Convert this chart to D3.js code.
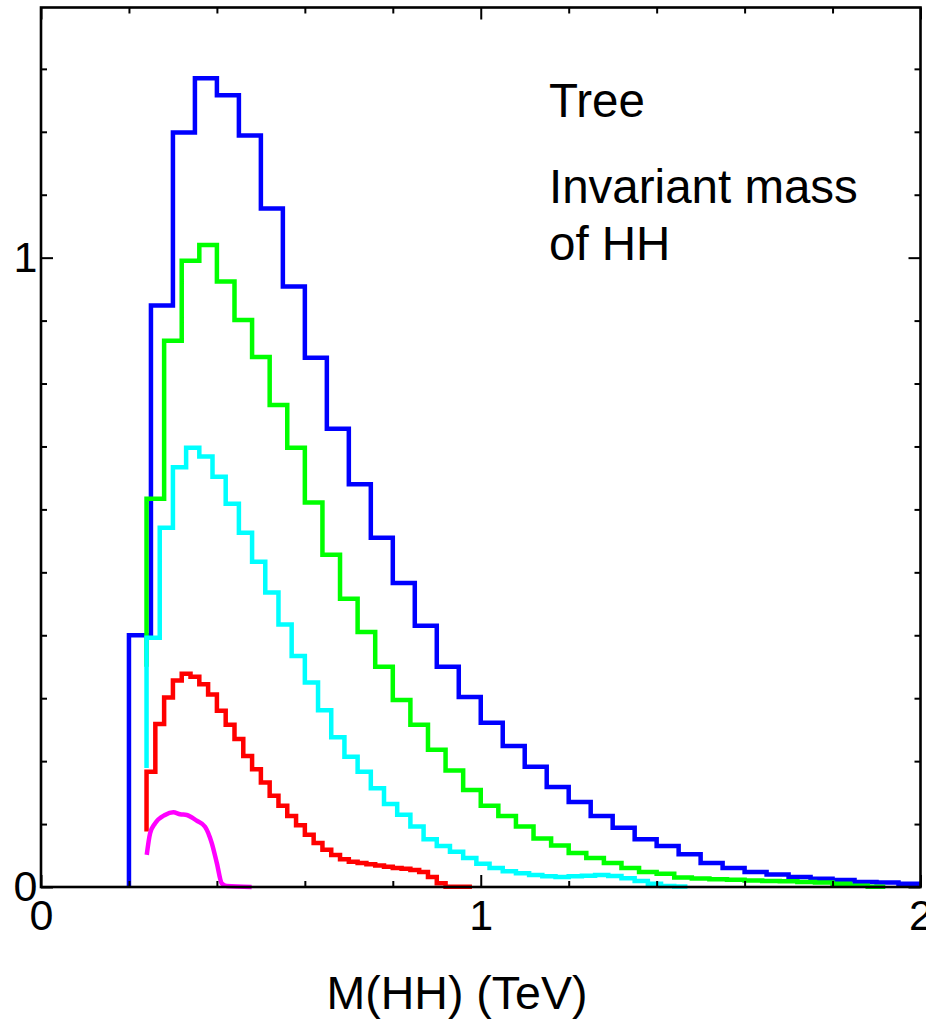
<!DOCTYPE html>
<html>
<head>
<meta charset="utf-8">
<script src="https://cdn.jsdelivr.net/npm/d3@7"></script>
<style>
  html, body { margin: 0; padding: 0; background: #ffffff; }
  svg { display: block; }
  text { font-family: "Liberation Sans", Arial, Helvetica, sans-serif; fill: #000; }
</style>
</head>
<body>
<svg id="chart" width="926" height="1019"></svg>
<script>
// ---------------- DATA ----------------
// x-axis ticks (TeV)
const xMajorTicks = [0, 1, 2];
const xTickLabels = ["0", "1", "2"];
const xMinorTicks = [0.2, 0.4, 0.6, 0.8, 1.2, 1.4, 1.6, 1.8];
// y-axis ticks
const yMajorTicks = [0, 1];
const yTickLabels = ["0", "1"];
const yMinorTicks = [0.1, 0.2, 0.3, 0.4, 0.5, 0.6, 0.7, 0.8, 0.9, 1.1, 1.2, 1.3];

const xTitle = "M(HH) (TeV)";
const annotationLines = ["Tree", "Invariant mass", "of HH"];

// Blue histogram: bins of 0.05 TeV from 0.20
const blueStart = 0.20, blueBinWidth = 0.05, blueFirst = 0.0;
const blueValues = [0.400, 0.924, 1.199, 1.285, 1.258, 1.194, 1.078, 0.954, 0.841, 0.728,
  0.640, 0.555, 0.483, 0.415, 0.350, 0.302, 0.261, 0.224, 0.191, 0.159,
  0.135, 0.113, 0.094, 0.076, 0.065, 0.052, 0.038, 0.030, 0.024, 0.020,
  0.016, 0.013, 0.011, 0.008, 0.007, 0.005];

// Green histogram: bins of 0.04 TeV from 0.24
const greenStart = 0.24, greenBinWidth = 0.04, greenFirst = 0.35;
const greenValues = [0.617, 0.868, 0.995, 1.020, 0.962, 0.901, 0.842, 0.766, 0.698, 0.611,
  0.528, 0.458, 0.405, 0.350, 0.297, 0.258, 0.218, 0.185, 0.154, 0.129,
  0.113, 0.096, 0.077, 0.066, 0.054, 0.046, 0.038, 0.030, 0.024, 0.021,
  0.015, 0.0135, 0.0125, 0.0115, 0.0105, 0.0095, 0.009, 0.008, 0.007, 0.005,
  0.002, 0.0005];

// Cyan histogram: bins of 0.03 TeV from 0.24
const cyanStart = 0.24, cyanBinWidth = 0.03, cyanFirst = 0.189;
const cyanValues = [0.396, 0.571, 0.667, 0.698, 0.684, 0.652, 0.609, 0.563, 0.517, 0.468,
  0.417, 0.367, 0.325, 0.281, 0.238, 0.207, 0.183, 0.157, 0.132, 0.115,
  0.096, 0.076, 0.065, 0.056, 0.046, 0.037, 0.030, 0.025, 0.022, 0.019,
  0.017, 0.016, 0.017, 0.018, 0.019, 0.0175, 0.014, 0.0095, 0.005, 0.0016,
  0.0008];

// Red histogram: bins of 0.02 TeV from 0.24
const redStart = 0.24, redBinWidth = 0.02, redFirst = 0.088;
const redValues = [0.183, 0.259, 0.301, 0.328, 0.339, 0.334, 0.322, 0.306, 0.280, 0.258,
  0.235, 0.208, 0.187, 0.166, 0.145, 0.129, 0.113, 0.098, 0.083, 0.070,
  0.059, 0.051, 0.044, 0.040, 0.038, 0.036, 0.034, 0.032, 0.030, 0.029,
  0.027, 0.024, 0.016, 0.006, 0.0005, 0.0005, 0.0005];

// Magenta curve (smooth)
const magentaX = [0.2405, 0.248, 0.2594, 0.282, 0.301, 0.3163, 0.3315, 0.354, 0.373, 0.3885, 0.400, 0.411, 0.4225, 0.479];
const magentaY = [0.051, 0.085, 0.101, 0.1145, 0.1187, 0.1156, 0.1145, 0.1054, 0.0958, 0.0694, 0.0376, 0.0058, 0.0016, 0.0];

// ---------------- CHART ----------------
const svg = d3.select("#chart");
const plotLeft = 41, plotRight = 920.5, plotTop = 7.5, plotBottom = 887;
const x = d3.scaleLinear().domain([0, 2]).range([plotLeft, plotRight]);
const y = d3.scaleLinear().domain([0, 1.3975]).range([plotBottom, plotTop]);

const tickFont = 43;

// Histogram step builder
function stepPoints(start, width, first, values) {
  const pts = [[start, first]];
  values.forEach((v, i) => pts.push([start + i * width, v]));
  pts.push([start + values.length * width, values[values.length - 1]]);
  return pts;
}
const stepLine = d3.line().x(d => x(d[0])).y(d => y(d[1])).curve(d3.curveStepAfter);
const smoothLine = d3.line().x(d => x(d[0])).y(d => y(d[1])).curve(d3.curveMonotoneX);

const series = [
  { pts: stepPoints(blueStart, blueBinWidth, blueFirst, blueValues), color: "#0000ff", gen: stepLine },
  { pts: stepPoints(greenStart, greenBinWidth, greenFirst, greenValues), color: "#00ff00", gen: stepLine },
  { pts: stepPoints(cyanStart, cyanBinWidth, cyanFirst, cyanValues), color: "#00ffff", gen: stepLine },
  { pts: stepPoints(redStart, redBinWidth, redFirst, redValues), color: "#ff0000", gen: stepLine },
  { pts: magentaX.map((v, i) => [v, magentaY[i]]), color: "#ff00ff", gen: smoothLine }
];

svg.append("g").selectAll("path").data(series).join("path")
  .attr("d", d => d.gen(d.pts))
  .attr("fill", "none")
  .attr("stroke", d => d.color)
  .attr("stroke-width", 4.5)
  .attr("stroke-linejoin", "miter")
  .attr("stroke-linecap", "butt");

// Axes (ticks pointing inward)
function styleAxis(g) {
  g.select(".domain").remove();
  g.selectAll(".tick line").attr("stroke", "#000").attr("stroke-width", 2);
  g.selectAll("text").style("font-size", tickFont + "px")
    .style("font-family", '"Liberation Sans", Arial, sans-serif').attr("fill", "#000");
}

// bottom
svg.append("g").attr("transform", `translate(0,${plotBottom})`)
  .call(d3.axisBottom(x).tickValues(xMinorTicks).tickSize(-6).tickFormat(""))
  .call(styleAxis);
svg.append("g").attr("transform", `translate(0,${plotBottom})`)
  .call(d3.axisBottom(x).tickValues(xMajorTicks).tickSize(-12).tickPadding(12.5)
    .tickFormat((d, i) => xTickLabels[i]))
  .call(styleAxis);
// top
svg.append("g").attr("transform", `translate(0,${plotTop})`)
  .call(d3.axisTop(x).tickValues(xMinorTicks).tickSize(-6).tickFormat(""))
  .call(styleAxis);
svg.append("g").attr("transform", `translate(0,${plotTop})`)
  .call(d3.axisTop(x).tickValues(xMajorTicks).tickSize(-12).tickFormat(""))
  .call(styleAxis);
// left
svg.append("g").attr("transform", `translate(${plotLeft},0)`)
  .call(d3.axisLeft(y).tickValues(yMinorTicks).tickSize(-6).tickFormat(""))
  .call(styleAxis);
svg.append("g").attr("transform", `translate(${plotLeft},0)`)
  .call(d3.axisLeft(y).tickValues(yMajorTicks).tickSize(-12).tickPadding(3.5)
    .tickFormat((d, i) => yTickLabels[i]))
  .call(styleAxis);
// right
svg.append("g").attr("transform", `translate(${plotRight},0)`)
  .call(d3.axisRight(y).tickValues(yMinorTicks).tickSize(-6).tickFormat(""))
  .call(styleAxis);
svg.append("g").attr("transform", `translate(${plotRight},0)`)
  .call(d3.axisRight(y).tickValues(yMajorTicks).tickSize(-12).tickFormat(""))
  .call(styleAxis);

// frame
svg.append("rect")
  .attr("x", plotLeft).attr("y", plotTop)
  .attr("width", plotRight - plotLeft).attr("height", plotBottom - plotTop)
  .attr("fill", "none").attr("stroke", "#000").attr("stroke-width", 2.6);

// annotation
const ann = svg.append("g");
const annY = [117, 203, 260];
ann.selectAll("text").data(annotationLines).join("text")
  .attr("x", 549)
  .attr("y", (d, i) => annY[i])
  .style("font-size", "47.5px")
  .text(d => d);

// x title
svg.append("text")
  .attr("x", 457).attr("y", 1009)
  .attr("text-anchor", "middle")
  .style("font-size", "46.5px")
  .text(xTitle);
</script>
</body>
</html>
